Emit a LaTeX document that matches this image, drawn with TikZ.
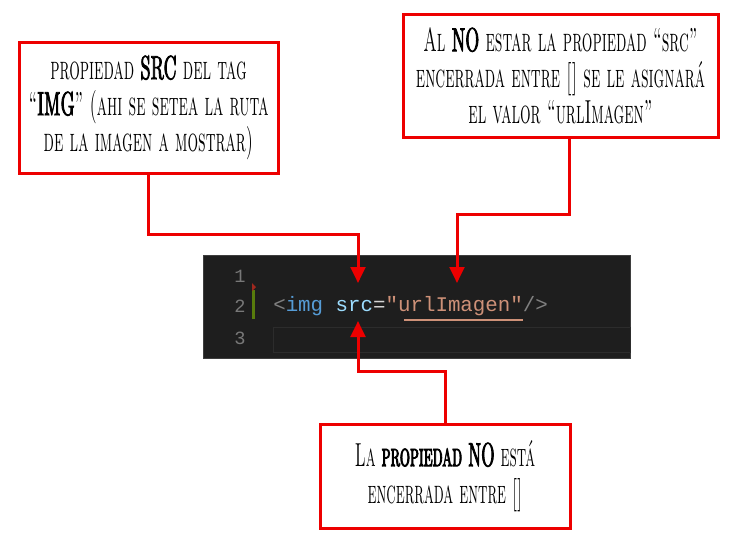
\documentclass[tikz,border=0pt]{standalone}
\usepackage{fontspec}
\setmonofont{Liberation Mono}
\newfontfamily\notefont[FakeStretch=0.5,Ligatures=TeX]{lmromancaps10-regular.otf}
\newfontfamily\notebold[FakeStretch=0.5,FakeBold=2.5,Ligatures=TeX]{lmromancaps10-regular.otf}
\newfontfamily\bignotefont[FakeStretch=0.48,Ligatures=TeX]{lmromancaps10-regular.otf}
\newfontfamily\bignotebold[FakeStretch=0.48,FakeBold=2.5,Ligatures=TeX]{lmromancaps10-regular.otf}
\usetikzlibrary{arrows.meta}
\definecolor{notered}{RGB}{237,0,0}
\definecolor{editorbg}{RGB}{30,30,30}
\definecolor{editorline}{RGB}{62,62,62}
\definecolor{curline}{RGB}{44,44,44}
\definecolor{gutter}{RGB}{120,120,120}
\definecolor{tagblue}{RGB}{86,156,214}
\definecolor{attrblue}{RGB}{156,220,254}
\definecolor{strorange}{RGB}{206,145,120}
\definecolor{punctgrey}{RGB}{128,128,128}
\definecolor{plaintext}{RGB}{212,212,212}
\definecolor{modgreen}{RGB}{88,124,12}
\definecolor{markred}{RGB}{160,40,30}
\tikzset{
  notebox/.style={draw=notered, line width=2.25pt, fill=white, align=center, inner sep=0pt},
  pointer/.style={draw=notered, line width=2.25pt, -{Triangle[length=12pt,width=11pt]}},
  lineno/.style={text=gutter, inner sep=0pt, anchor=base, font=\ttfamily\fontsize{14}{14}\selectfont},
}
\begin{document}
\begin{tikzpicture}[x=0.75pt,y=-0.75pt]
  \useasboundingbox[fill=white] (0,0) rectangle (754,550);
  % editor panel
  \node[fill=editorbg, draw=editorline, line width=0.75pt, minimum width=320.25pt, minimum height=77.25pt, inner sep=0pt] (editor) at (416.5,306.5) {};
  \draw[curline, line width=0.75pt] (273,327) rectangle (630,352);
  \node[lineno] (n1) at (240,282) {1};
  \node[lineno] (n2) at (240,312) {2};
  \node[lineno] (n3) at (240,344) {3};
  \fill[modgreen] (252,290) rectangle (255,319);
  \fill[markred] (252,283) -- (256,287) -- (252,291) -- cycle;
  \node[anchor=base west, inner sep=0pt, font=\ttfamily\fontsize{15.6}{16}\selectfont] (code) at (273,311)
    {\textcolor{punctgrey}{<}\textcolor{tagblue}{img} \textcolor{attrblue}{src}\textcolor{plaintext}{=}\textcolor{strorange}{"urlImagen"}\textcolor{punctgrey}{/>}};
  \draw[strorange, line width=1.2pt] (404,320) -- (523,320);
  \coordinate (srctop) at (358,283);
  \coordinate (srcbot) at (358,321);
  \coordinate (urltop) at (457,283);
  % notes
  \node[notebox, minimum width=194.25pt, minimum height=98.25pt, font=\notefont\fontsize{25}{27}\selectfont] (tag) at (148.5,107.5)
    {propiedad {\notebold SRC} del tag\\``{\notebold IMG}'' (ahi se setea la ruta\\de la imagen a mostrar)};
  \node[notebox, minimum width=236.25pt, minimum height=92.25pt, font=\notefont\fontsize{25}{27}\selectfont] (asig) at (560.5,75.5)
    {Al {\notebold NO} estar la propiedad ``src''\\encerrada entre [] se le asignará\\el valor ``urlImagen''};
  \node[notebox, minimum width=187.5pt, minimum height=78pt, font=\bignotefont\fontsize{25}{28}\selectfont] (prop) at (445,476)
    {La {\bignotebold propiedad NO} está\\encerrada entre []};
  % pointers
  \draw[pointer] (tag.south) -- ++(0,60) -| (srctop);
  \draw[pointer] ([xshift=7.1pt]asig.south) -- ++(0,76) -| (urltop);
  \draw[pointer] (prop.north) -- ++(0,-51) -| (srcbot);
\end{tikzpicture}
\end{document}
